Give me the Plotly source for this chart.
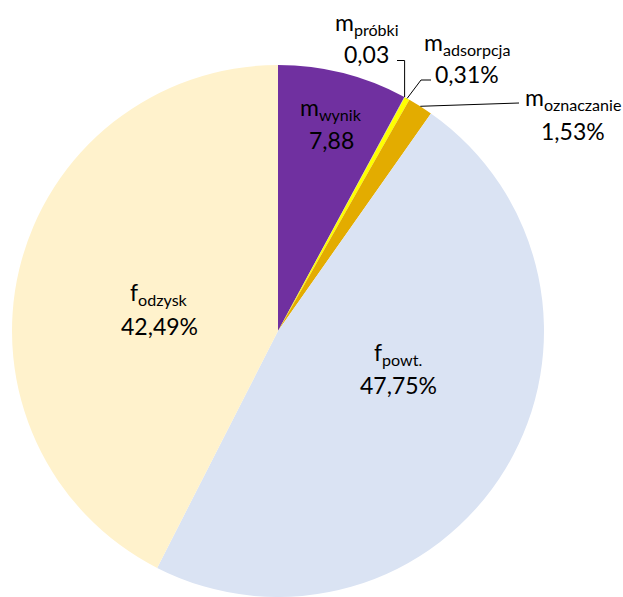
import math
import plotly.graph_objects as go

# ---- data ----
names = ["wynik", "próbki", "adsorpcja", "oznaczanie", "powt.", "odzysk"]
prefixes = ["m", "m", "m", "m", "f", "f"]
values = [7.88, 0.03, 0.31, 1.53, 47.75, 42.49]
value_labels = ["7,88", "0,03", "0,31%", "1,53%", "47,75%", "42,49%"]
colors = ["#7030A0", "#A5A5A5", "#FFFF00", "#E3AC00", "#DAE3F3", "#FFF2CC"]

# ---- layout constants ----
W, H = 623, 597
CX, CY, R = 278, 331, 266          # pie centre / radius in px
FONT = "Lato"
FS = 23

# label centres (px): (x, name-line y, value-line y)
label_pos = {
    "wynik": (331, 108, 140),
    "próbki": (367, 23, 54.5),
    "adsorpcja": (467, 44, 74.5),
    "oznaczanie": (573, 98, 130.5),
    "powt.": (398, 353, 385),
    "odzysk": (159, 293.5, 326),
}
# leader line elbows / ends (px)
leaders = {
    "próbki": [("v", 60.5), ("h", 397)],
    "adsorpcja": [("p", (421, 80)), ("p", (431, 80))],
    "oznaczanie": [("p", (519, 103))],
}


def px(x):
    return x / W


def py(y):
    return 1 - y / H


fig = go.Figure(go.Pie(
    values=values,
    labels=[p + n for p, n in zip(prefixes, names)],
    sort=False,
    direction="clockwise",
    rotation=0,
    marker=dict(colors=colors, line=dict(width=0)),
    textinfo="none",
    hoverinfo="skip",
    showlegend=False,
    domain=dict(x=[(CX - R) / W, (CX + R) / W], y=[0, (2 * R) / H]),
))

annotations = []
for p, n, v in zip(prefixes, names, value_labels):
    x, yn, yv = label_pos[n]
    annotations.append(dict(
        x=px(x), y=py(yn), xref="paper", yref="paper",
        text=f"{p}<sub>{n}</sub>", showarrow=False,
        xanchor="center", yanchor="middle",
        font=dict(family=FONT, size=FS, color="#000000"),
    ))
    annotations.append(dict(
        x=px(x), y=py(yv), xref="paper", yref="paper",
        text=v, showarrow=False,
        xanchor="center", yanchor="middle",
        font=dict(family=FONT, size=FS, color="#000000"),
    ))

# leader lines starting on the pie edge at each slice's mid angle
total = sum(values)
cum = 0
mids = {}
for n, v in zip(names, values):
    mids[n] = (cum + v / 2) / total * 2 * math.pi
    cum += v

shapes = []
for n, steps in leaders.items():
    th = mids[n]
    x0, y0 = CX + R * math.sin(th), CY - R * math.cos(th)
    for kind, val in steps:
        if kind == "v":
            x1, y1 = x0, val
        elif kind == "h":
            x1, y1 = val, y0
        else:
            x1, y1 = val
        shapes.append(dict(type="line", xref="paper", yref="paper",
                           x0=px(x0), y0=py(y0), x1=px(x1), y1=py(y1),
                           line=dict(color="#000000", width=1)))
        x0, y0 = x1, y1

fig.update_layout(
    width=W, height=H,
    margin=dict(l=0, r=0, t=0, b=0),
    paper_bgcolor="white",
    plot_bgcolor="white",
    annotations=annotations,
    shapes=shapes,
)

fig.write_html(
    "out.html",
    config={"displayModeBar": False},
    post_script="document.body.style.margin='0';document.body.style.overflow='hidden';",
)
